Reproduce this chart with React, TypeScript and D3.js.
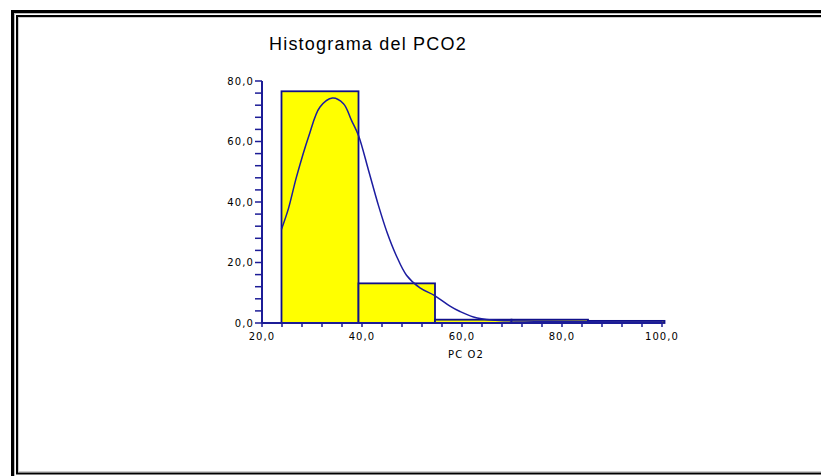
import React from "react";
import * as d3 from "d3";

const binEdges = [23.9, 39.3, 54.6, 69.9, 85.2, 100.5];
const binCounts = [76.6, 13.1, 1.1, 1.1, 0.7];
const curveX = [23.9, 25.3, 26.9, 29.3, 31.6, 34.1, 36.3, 37.9, 39.3, 41.3, 43.3, 45, 46.8, 48.9, 51.6, 54.6, 57.6, 59.6, 62.3, 66, 75, 85, 100];
const curveY = [31, 37.9, 48.3, 61.5, 71.4, 74.4, 72.5, 67, 62, 50.5, 38.8, 30, 22.5, 15.8, 11.6, 9.0, 5.6, 3.8, 2.0, 1.0, 0.6, 0.4, 0.3];
const yTicks = [0, 20, 40, 60, 80];
const xTicks = [20, 40, 60, 80, 100];
const title = "Histograma del PCO2";
const xLabel = "PC O2";

const fmt = (v: number) => v.toFixed(1).replace(".", ",");

export default function App() {
  const x = d3.scaleLinear().domain([20, 100]).range([262, 662]);
  const y = d3.scaleLinear().domain([0, 80]).range([323, 81]);
  const axisColor = "#1c1c96";
  const line = d3
    .line<number>()
    .x((_, i) => x(curveX[i]))
    .y((d) => y(d))
    .curve(d3.curveCatmullRom.alpha(0.5));
  const yMinor = d3.range(0, 80.01, 4);
  const xMinor = d3.range(20, 100.01, 4);
  const font = "Arial, 'Liberation Sans', sans-serif";
  const tickFont = "'DejaVu Sans', Verdana, sans-serif";
  return (
    <svg
      width={821}
      height={476}
      style={{ position: "absolute", left: 0, top: 0, background: "#fff" }}
    >
      {/* frame */}
      <rect x={12.5} y={11.5} width={900} height={600} fill="none" stroke="#000" strokeWidth={3} />
      <rect x={14.5} y={13.5} width={900} height={600} fill="none" stroke="#bbb" strokeWidth={1} />
      <rect x={17} y={16} width={900} height={457.5} fill="none" stroke="#000" strokeWidth={2} />
      <rect x={18.5} y={17.5} width={900} height={454} fill="none" stroke="#ccc" strokeWidth={1} />

      <text x={269} y={49.5} fontFamily={font} fontSize={18} letterSpacing={1.2} fill="#000">
        {title}
      </text>

      {/* bars */}
      {binCounts.map((c, i) => (
        <rect
          key={i}
          x={x(binEdges[i])}
          y={y(c)}
          width={x(binEdges[i + 1]) - x(binEdges[i])}
          height={y(0) - y(c)}
          fill="#ffff00"
          stroke="#10108a"
          strokeWidth={1.8}
        />
      ))}

      {/* curve */}
      <path d={line(curveY) || ""} fill="none" stroke="#1c1ca0" strokeWidth={1.5} />

      {/* y axis */}
      <line x1={262} x2={262} y1={y(0)} y2={y(80)} stroke={axisColor} strokeWidth={2} />
      {yMinor.map((t) => (
        <line key={"ym" + t} x1={255} x2={262} y1={y(t)} y2={y(t)} stroke={axisColor} strokeWidth={1.5} />
      ))}
      {yTicks.map((t) => (
        <text
          key={"yt" + t}
          x={254}
          y={y(t)}
          dy="0.35em"
          textAnchor="end"
          fontFamily={tickFont}
          fontSize={10}
          letterSpacing={1.1}
          fill="#000"
        >
          {fmt(t)}
        </text>
      ))}

      {/* x axis */}
      <line x1={x(20)} x2={x(100)} y1={323} y2={323} stroke={axisColor} strokeWidth={2} />
      {xMinor.map((t) => (
        <line key={"xm" + t} x1={x(t)} x2={x(t)} y1={323} y2={327} stroke={axisColor} strokeWidth={1.5} />
      ))}
      {xTicks.map((t) => (
        <text
          key={"xt" + t}
          x={x(t)}
          y={340}
          textAnchor="middle"
          fontFamily={tickFont}
          fontSize={10}
          letterSpacing={1.1}
          fill="#000"
        >
          {fmt(t)}
        </text>
      ))}
      <text
        x={466}
        y={358}
        textAnchor="middle"
        fontFamily={tickFont}
        fontSize={10}
        letterSpacing={1.1}
        fill="#000"
      >
        {xLabel}
      </text>
    </svg>
  );
}
